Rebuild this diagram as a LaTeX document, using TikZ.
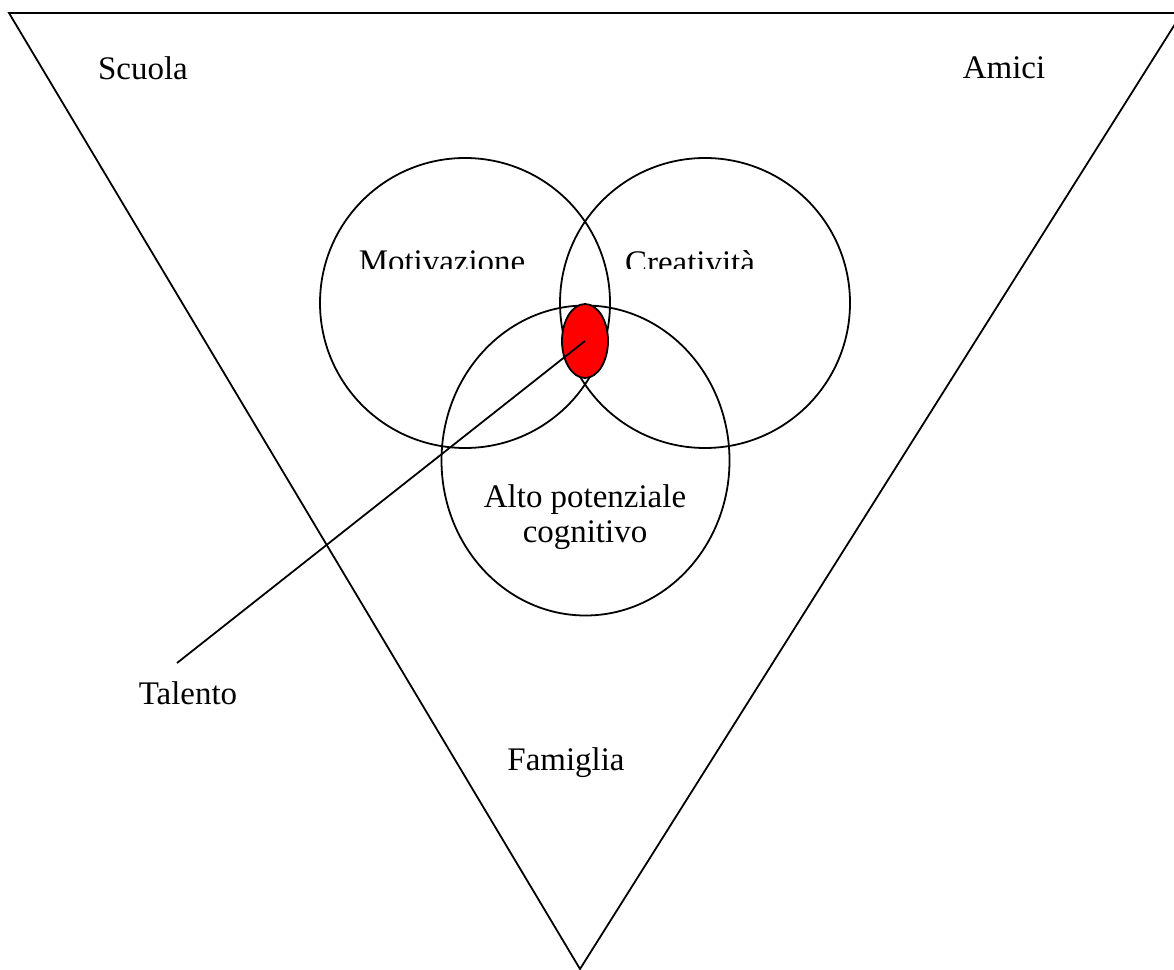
\documentclass[tikz,border=0pt]{standalone}
\usepackage{fontspec}
\setmainfont{Liberation Serif}
\usetikzlibrary{shapes.geometric}

\tikzset{
    venn/.style={line width=.65pt},
    label text/.style={font=\fontsize{12}{13}\selectfont, inner sep=0pt},
    talent spot/.style={ellipse, draw, line width=.65pt, fill=red,
        minimum width=.589cm, minimum height=.947cm, inner sep=0pt},
}

\begin{document}
\begin{tikzpicture}[x=.0128cm, y=-.0128cm]
    \useasboundingbox (0,0) rectangle (1174,969);
    \clip (0,0) rectangle (1174,969);

    % environment triangle
    \draw[venn] (9,13) -- (1182,13) -- (580,969) -- cycle;
    \node[label text] (scuola) at (143,68) {Scuola};
    \node[label text] (amici) at (1004,68) {Amici};
    \node[label text] (famiglia) at (566,763) {Famiglia};

    % the three circles
    \draw[venn] (465,303) circle[radius=145];
    \draw[venn] (705,303) circle[radius=145];
    \draw[venn] (585.5,460.5) ellipse[x radius=144, y radius=155];

    \begin{scope}
        \clip (300,200) rectangle (900,269);
        \node[label text] (motiv) at (442,262) {Motivazione};
        \node[label text] (creat) at (690,262) {Creatività};
    \end{scope}
    \node[label text, align=center] (alto) at (585,517) {Alto potenziale\\cognitivo};

    % talent in the middle
    \node[talent spot] (talent) at (585,341) {};
    \node[label text] (talento) at (188,693) {Talento};
    \coordinate (talento-end) at (177,663);
    \draw[venn] (talento-end) -- (talent.center);
\end{tikzpicture}
\end{document}
